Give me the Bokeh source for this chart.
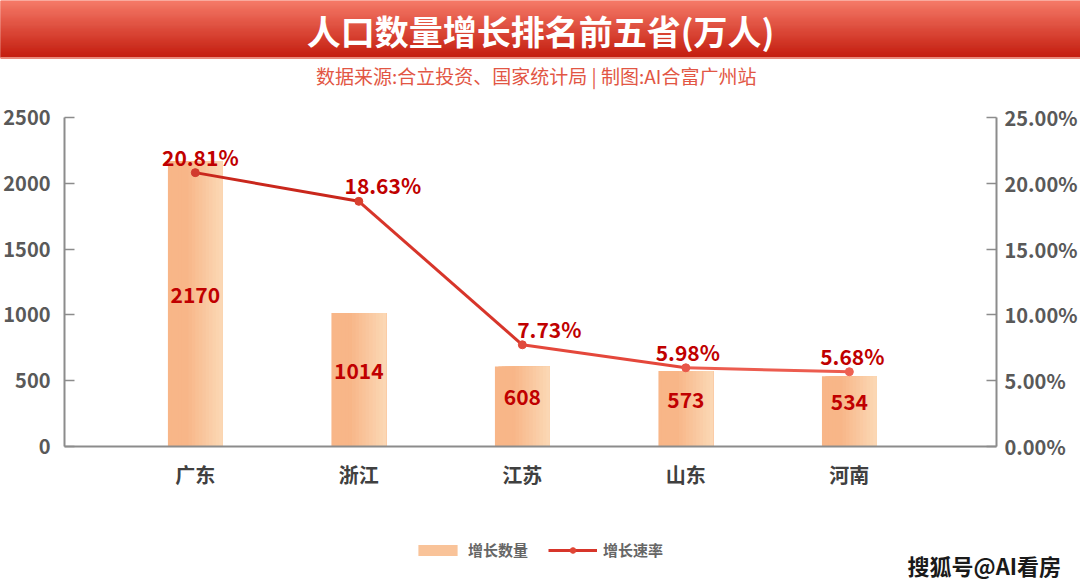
import numpy as np
from bokeh.plotting import figure
from bokeh.layouts import column
from bokeh.models import (Range1d, LinearAxis, FixedTicker, NumeralTickFormatter,
                          Legend, LegendItem, ColumnDataSource)
from bokeh.core.properties import value
from bokeh.embed import file_html
from bokeh.resources import INLINE

# ---------------- data ----------------
title_text = "人口数量增长排名前五省(万人)"
subtitle_text = "数据来源:合立投资、国家统计局  |  制图:AI合富广州站"
provinces = ["广东", "浙江", "江苏", "山东", "河南"]
growth_count = [2170, 1014, 608, 573, 534]
growth_rate = [0.2081, 0.1863, 0.0773, 0.0598, 0.0568]
left_ticks = [0, 500, 1000, 1500, 2000, 2500]
right_ticks = [0.0, 0.05, 0.10, 0.15, 0.20, 0.25]
series_names = ["增长数量", "增长速率"]
watermark_text = "搜狐号@AI看房"

# ---------------- style ----------------
FONT = "Noto Sans CJK SC"
W = 1080
BANNER_H = 92
MAIN_H = 433
FOOT_H = 63
DARK_RED = "#C00000"
AXIS_GRAY = "#8C8C8C"
TICK_TEXT = "#595959"
BAR_MID = "#F9C399"
LINE_MID = "#D7352A"


def hexc(rgb):
    return "#%02x%02x%02x" % tuple(int(round(v)) for v in rgb)


# ---------------- banner ----------------
banner = figure(width=W, height=BANNER_H, x_range=Range1d(0, W), y_range=Range1d(BANNER_H, 0),
                output_backend="svg", toolbar_location=None, min_border=0,
                x_axis_type=None, y_axis_type=None, outline_line_color=None)
banner.frame_align = False
banner.grid.visible = False
rows = np.arange(57)
t = (rows + 0.5) / 57.0
top_c = np.array([246, 124, 106])
bot_c = np.array([196, 30, 16])
cols = [hexc(top_c + (bot_c - top_c) * tt) for tt in t]
banner.hbar(y=rows + 0.5, height=1.1, left=0, right=W, color=cols)
banner.hbar(y=[57.5], height=1.0, left=0, right=W, color="#E98A7C")
banner.text(x=[W / 2], y=[30], text=[title_text], text_align="center", text_baseline="middle",
            text_font=value(FONT), text_font_style="bold", text_font_size="34px", text_color="white")
banner.text(x=[W / 2], y=[75], text=[subtitle_text], text_align="center", text_baseline="middle",
            text_font=value(FONT), text_font_style="normal", text_font_size="19px", text_color="#E25644")

# ---------------- main chart ----------------
idx = np.arange(len(provinces))
counts = np.array(growth_count, dtype=float)
rates = np.array(growth_rate, dtype=float)

p = figure(width=W, height=MAIN_H, x_range=Range1d(-0.8, 4.9), y_range=Range1d(0, 2500),
           output_backend="svg", toolbar_location=None,
           min_border_left=63, min_border_right=83, min_border_top=25, min_border_bottom=79,
           outline_line_color=None, x_axis_type=None, y_axis_type=None)
p.frame_align = False
p.grid.visible = False
p.extra_y_ranges = {"rate": Range1d(0, 0.25)}

xax = LinearAxis(ticker=FixedTicker(ticks=list(idx)),
                 major_label_overrides={int(i): n for i, n in zip(idx, provinces)})
xax.axis_line_color = AXIS_GRAY
xax.axis_line_width = 2
xax.major_tick_line_color = None
xax.minor_tick_line_color = None
xax.major_label_standoff = 7
xax.major_label_text_font = FONT
xax.major_label_text_font_style = "bold"
xax.major_label_text_font_size = "20px"
xax.major_label_text_color = "#404040"
p.add_layout(xax, "below")

lax = LinearAxis(ticker=FixedTicker(ticks=left_ticks))
rax = LinearAxis(y_range_name="rate", ticker=FixedTicker(ticks=right_ticks),
                 formatter=NumeralTickFormatter(format="0.00%"))
for ax, so in ((lax, 14), (rax, 8)):
    ax.axis_line_color = AXIS_GRAY
    ax.axis_line_width = 2
    ax.major_tick_line_color = AXIS_GRAY
    ax.major_tick_line_width = 1.5
    ax.major_tick_in = 10
    ax.major_tick_out = 0
    ax.minor_tick_line_color = None
    ax.major_label_standoff = so
    ax.major_label_text_font = FONT
    ax.major_label_text_font_style = "bold"
    ax.major_label_text_font_size = "20px"
    ax.major_label_text_color = TICK_TEXT
    ax.major_label_text_baseline = "alphabetic"
p.add_layout(lax, "left")
p.add_layout(rax, "right")

# gradient bars: overlapping slices, each reaching to the bar's right edge
bw = 0.335
n_sl = 16
c_left = np.array([248, 182, 136])
c_right = np.array([251, 217, 182])
for k in range(n_sl):
    f = (k + 0.5) / n_sl
    g = 0.0 if f < 0.35 else (f - 0.35) / 0.65
    c = hexc(c_left + (c_right - c_left) * g)
    p.quad(left=idx - bw / 2 + k * bw / n_sl, right=idx + bw / 2, bottom=0, top=counts,
           fill_color=c, line_color=None)

bar_src = ColumnDataSource(dict(x=idx, y=counts / 2, t=[str(int(v)) for v in growth_count]))
p.text(x="x", y="y", text="t", source=bar_src, text_align="center", text_baseline="middle",
       y_offset=-9, text_font=value(FONT), text_font_style="bold", text_font_size="21px",
       text_color=DARK_RED)

seg_colors = ["#C9271C", "#D7352A", "#E4473B", "#EC5C4F"]
p.segment(x0=idx[:-1], y0=rates[:-1], x1=idx[1:], y1=rates[1:], y_range_name="rate",
          line_color=seg_colors, line_width=3)
pt_colors = ["#D23A2E", "#D8402F", "#E04A3C", "#E8574A", "#EE6152"]
p.scatter(x=idx, y=rates, y_range_name="rate", size=8, fill_color=pt_colors, line_color=pt_colors)

label_dx = [5, 24, 27, 2, 3]
rate_src = ColumnDataSource(dict(x=idx, y=rates, t=["%.2f%%" % (r * 100) for r in growth_rate],
                                 dx=label_dx))
p.text(x="x", y="y", text="t", source=rate_src, y_range_name="rate", x_offset="dx",
       y_offset=-16, text_align="center", text_baseline="middle",
       text_font=value(FONT), text_font_style="bold", text_font_size="21px", text_color=DARK_RED)

# ---------------- footer: legend + watermark ----------------
foot = figure(width=W, height=FOOT_H, x_range=Range1d(0, W), y_range=Range1d(FOOT_H, 0),
              output_backend="svg", toolbar_location=None, min_border=0,
              x_axis_type=None, y_axis_type=None, outline_line_color=None)
foot.frame_align = False
foot.grid.visible = False
# legend proxies: one point each, placed outside the visible footer area
r_bar = foot.quad(left=[-50], right=[-40], top=[-50], bottom=[-40], fill_color=BAR_MID, line_color=None)
r_line = foot.line(x=[-50, -40], y=[-50, -50], line_color=LINE_MID, line_width=3)
r_pt = foot.scatter(x=[-50], y=[-50], size=10, fill_color="#E04535", line_color="#E04535")
legend = Legend(items=[LegendItem(label=series_names[0], renderers=[r_bar]),
                       LegendItem(label=series_names[1], renderers=[r_line, r_pt])],
                location=(413, 28), orientation="horizontal",
                glyph_width=49, glyph_height=14, label_height=14, label_standoff=6, spacing=20,
                padding=0, margin=0, background_fill_alpha=0, border_line_color=None,
                label_text_font=FONT, label_text_font_style="bold",
                label_text_font_size="15px", label_text_color="#666666")
foot.add_layout(legend)
foot.text(x=[907], y=[39], text=[watermark_text], text_align="left", text_baseline="middle",
          text_font=value(FONT), text_font_style="bold", text_font_size="22px", text_color="#1A1A1A")

layout = column(banner, p, foot, spacing=0)
open("out.html", "w").write(file_html(layout, INLINE))
